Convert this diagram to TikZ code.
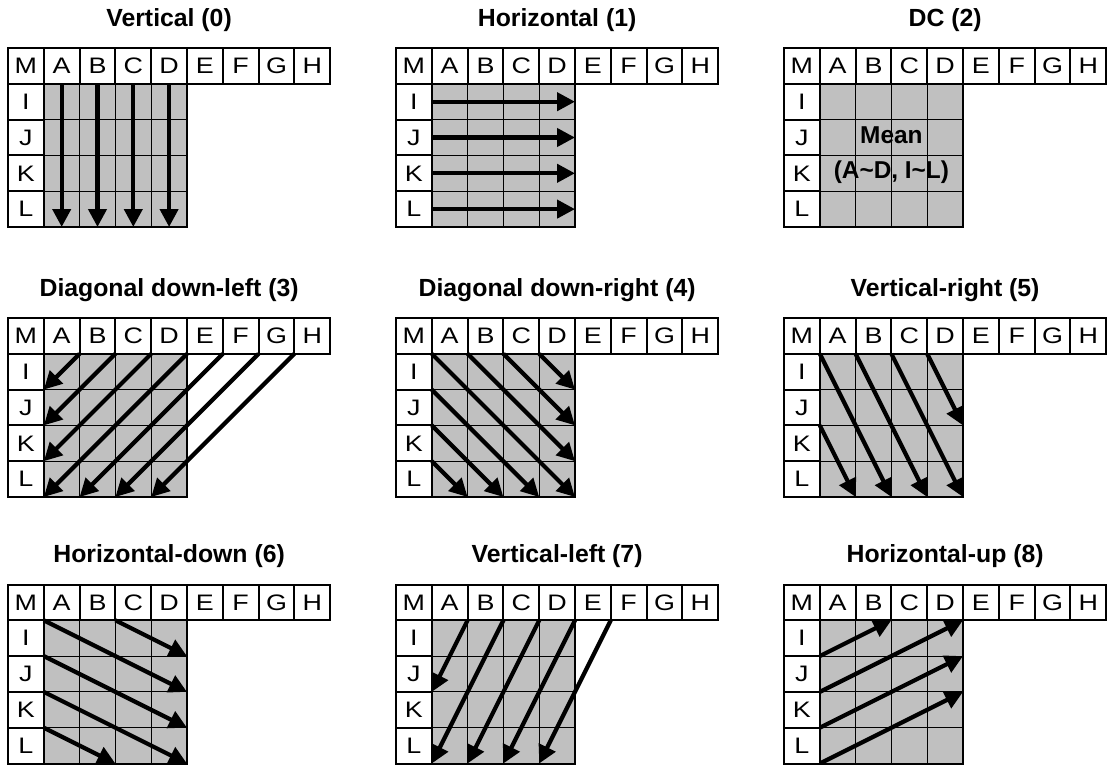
\documentclass[tikz,border=0pt]{standalone}
\usepackage{fontspec}
\setmainfont{Liberation Sans}
\newfontfamily\cellfont[FakeStretch=1.2]{Liberation Sans}
\usetikzlibrary{arrows.meta}
\definecolor{cellgray}{HTML}{C0C0C0}
\tikzset{x=0.5pt,y=-0.5pt,
hc/.style={rectangle,draw,fill=white,line width=1pt,minimum size=17.9pt,inner sep=0pt,outer sep=0pt,font=\cellfont\fontsize{11.2}{13}\selectfont},
gc/.style={rectangle,draw,fill=cellgray,line width=0.5pt,minimum size=17.9pt,inner sep=0pt,outer sep=0pt},
gframe/.style={draw,line width=1pt},
ttl/.style={font=\fontsize{12.4}{15}\selectfont\bfseries},
mean/.style={align=center,font=\fontsize{12.2}{17.5}\selectfont\bfseries},
ar/.style={-{Triangle[length=9pt,width=9pt]},line width=2.1pt},
}
\newcommand{\predgrid}[4]{%
\begin{scope}[shift={(#2,#3)}]
\node[ttl] (#1-t) at (161.1,-28) {#4};
\foreach \j in {1,...,4}
  \foreach \i in {1,...,4}
    \node[gc] (#1-\j-\i) at (17.9+35.8*\i,17.9+35.8*\j) {};
\draw[gframe] (#1-1-1.north west) rectangle (#1-4-4.south east);
\node[hc] (#1-M) at (17.9,17.9) {M};
\foreach \c [count=\i] in {A,B,C,D,E,F,G,H}
  \node[hc] (#1-\c) at (17.9+35.8*\i,17.9) {\c};
\foreach \r [count=\j] in {I,J,K,L}
  \node[hc] (#1-\r) at (17.9,17.9+35.8*\j) {\r};
\end{scope}}

\begin{document}
\begin{tikzpicture}
\useasboundingbox (0,0) rectangle (1108,765);

\predgrid{v}{8}{48}{Vertical (0)}
\predgrid{h}{396}{48}{Horizontal (1)}
\predgrid{dc}{784}{48}{DC (2)}
\predgrid{ddl}{8}{318}{Diagonal down-left (3)}
\predgrid{ddr}{396}{318}{Diagonal down-right (4)}
\predgrid{vr}{784}{318}{Vertical-right (5)}
\predgrid{hd}{8}{584.5}{Horizontal-down (6)}
\predgrid{vl}{396}{584.5}{Vertical-left (7)}
\predgrid{hu}{784}{584.5}{Horizontal-up (8)}

\node[mean] (dc-mean) at (dc-2-2.south east) {Mean\\(A\textasciitilde D, I\textasciitilde L)};

\foreach \c [count=\i] in {A,B,C,D}
  \draw[ar] (v-\c.south) -- (v-4-\i.south);
\foreach \r [count=\j] in {I,J,K,L}
  \draw[ar] (h-\r.east) -- (h-\j-4.east);
\foreach \s/\e in {A/1-1,B/2-1,C/3-1,D/4-1,E/4-2,F/4-3,G/4-4}
  \draw[ar] (ddl-\s.south east) -- (ddl-\e.south west);
\foreach \s/\e in {M/4-4,A/3-4,B/2-4,C/1-4,I/4-3,J/4-2,K/4-1}
  \draw[ar] (ddr-\s.south east) -- (ddr-\e.south east);
\foreach \s/\e in {M/4-2,A/4-3,B/4-4,C/2-4,J/4-1}
  \draw[ar] (vr-\s.south east) -- (vr-\e.south east);
\foreach \s/\e in {M/2-4,B/1-4,I/3-4,J/4-4,K/4-2}
  \draw[ar] (hd-\s.south east) -- (hd-\e.south east);
\foreach \s/\e in {A/2-1,B/4-1,C/4-2,D/4-3,E/4-4}
  \draw[ar] (vl-\s.south east) -- (vl-\e.south west);
\draw[ar] (hu-I.south east) -- (hu-1-2.north east);
\draw[ar] (hu-J.south east) -- (hu-1-4.north east);
\draw[ar] (hu-K.south east) -- (hu-1-4.south east);
\draw[ar] (hu-L.south east) -- (hu-2-4.south east);
\end{tikzpicture}
\end{document}
